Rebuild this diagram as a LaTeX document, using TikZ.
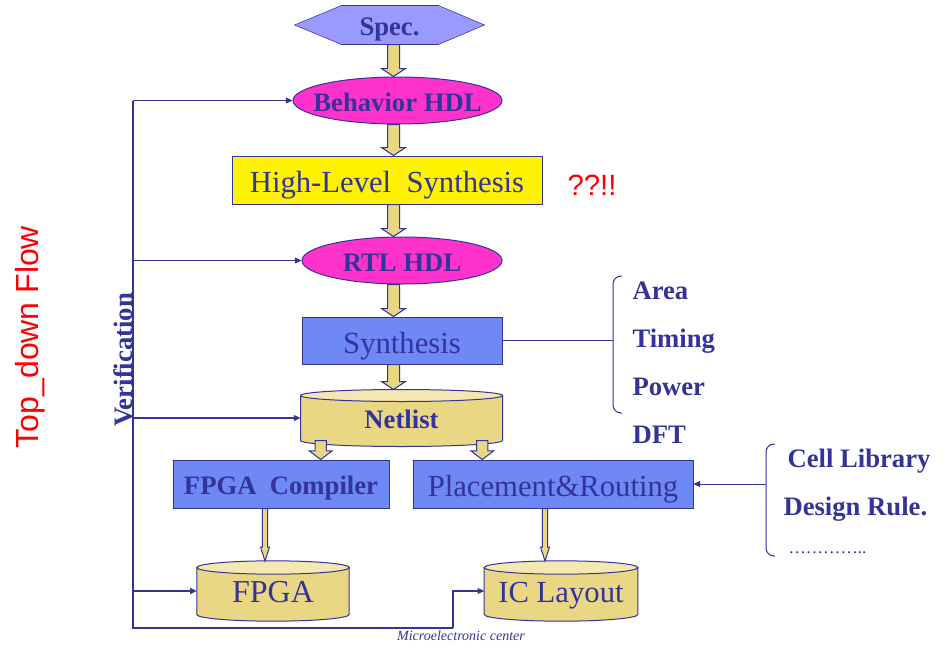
\documentclass[tikz,border=0pt]{standalone}
\usepackage{fontspec}
\setmainfont{Liberation Serif}
\newfontfamily\arialfont{Liberation Sans}
\usetikzlibrary{arrows.meta,calc,shapes.geometric,backgrounds}
\definecolor{navy}{RGB}{51,51,153}
\definecolor{specblue}{RGB}{153,153,255}
\definecolor{hdlpink}{RGB}{255,51,204}
\definecolor{synblue}{RGB}{110,136,245}
\definecolor{drumtan}{RGB}{234,215,132}
\definecolor{drumlid}{RGB}{243,232,178}

\begin{document}
\begin{tikzpicture}[x=0.75pt, y=-0.75pt, >={Triangle[length=5pt,width=4.5pt]}, line width=0.75pt,
    every node/.style={text=navy},
    boldtxt/.style={font=\fontsize{20}{24}\selectfont\bfseries, text height=16pt, text depth=0pt},
    plaintxt/.style={font=\fontsize{23}{27}\selectfont, text height=19pt, text depth=0pt},
    hdl/.style={ellipse, draw=navy, fill=hdlpink, inner sep=0pt, label={[boldtxt]center:#1}},
    stagebox/.style={rectangle, draw=navy, inner sep=0pt},
    drum/.style={rectangle, inner sep=0pt, plaintxt, text height=17pt},
    tanfill/.style={fill=drumtan, draw=navy, line width=0.75pt},
    feedback/.style={draw=navy, line width=0.9pt},
    sidetxt/.style={anchor=base west, inner sep=0pt, boldtxt}]
        \useasboundingbox (0,0) rectangle (946,668);
        \def\fatarrow#1#2#3#4#5{%
          \filldraw[tanfill] let \p1=(#1), \p2=(#2) in
            (\x1-#3,\y1) -- (\x1-#3,\y2+#5) -- (\x1-#4,\y2+#5) -- (\x1,\y2)
            -- (\x1+#4,\y2+#5) -- (\x1+#3,\y2+#5) -- (\x1+#3,\y1) -- cycle;}
        \def\drumshape#1#2{%
          \filldraw[tanfill] let \p1=(#1.north west), \p2=(#1.south east) in
            (\x1,\y1) -- (\x1,\y2) arc[start angle=180, end angle=360, x radius={(\x2-\x1)/2}, y radius=#2]
            -- (\x2,\y1) -- cycle;
          \filldraw[tanfill, fill=drumlid] let \p1=(#1.north west), \p2=(#1.north east) in
            (#1.north) ellipse[x radius={(\x2-\x1)/2}, y radius=#2];}
        \node[boldtxt, inner sep=0pt, minimum width=141.75pt, minimum height=28.5pt] (spec) at (389.5,25) {Spec.};
        \node[hdl=Behavior HDL, minimum width=156.75pt, minimum height=35.25pt] (beh) at (397.5,100.5) {};
        \node[stagebox, fill=yellow, plaintxt, minimum width=232.5pt, minimum height=36pt] (hls) at (387,180) {High-Level\ \ Synthesis};
        \node[hdl=RTL HDL, minimum width=150pt, minimum height=35.25pt] (rtl) at (402,260.5) {};
        \node[stagebox, fill=synblue, plaintxt, minimum width=150pt, minimum height=35.25pt] (syn) at (402,340.5) {Synthesis};
        \node[drum, boldtxt, minimum width=150.75pt, minimum height=33pt] (net) at (401.5,418) {Netlist};
        \node[stagebox, fill=synblue, boldtxt, minimum width=162pt, minimum height=36pt] (fpgac) at (281,484) {FPGA\ \ Compiler};
        \node[stagebox, fill=synblue, plaintxt, minimum width=210pt, minimum height=36pt] (pr) at (553,484) {Placement\&Routing};
        \node[drum, font=\fontsize{24}{28}\selectfont, minimum width=113.6pt, minimum height=34.5pt] (fpga) at (273,591) {FPGA};
        \node[drum, minimum width=114.4pt, minimum height=34.5pt] (ic) at (561,591) {IC Layout};
        \begin{scope}[on background layer]
          \filldraw[draw=navy, fill=specblue] (spec.west) -- ($(spec.north west)+(47,0)$) -- ($(spec.north east)+(-46,0)$)
            -- (spec.east) -- ($(spec.south east)+(-46,0)$) -- ($(spec.south west)+(47,0)$) -- cycle;
          \drumshape{net}{4.5pt}
          \drumshape{fpga}{5pt}
          \drumshape{ic}{5pt}
        \end{scope}
        \coordinate (spine) at (393.5,0);
        \coordinate (nl) at ($(net.south west)!0.1!(net.south east)$);
        \coordinate (nr) at ($(net.south west)!0.9!(net.south east)$);
        \coordinate (fx) at (265,0);
        \coordinate (ix) at (545,0);
        \fatarrow{spine |- spec.south}{spine |- beh.north}{4.5pt}{9pt}{6pt}
        \fatarrow{spine |- beh.south}{spine |- hls.north}{4.5pt}{9pt}{6pt}
        \fatarrow{spine |- hls.south}{spine |- rtl.north}{4.5pt}{9pt}{6pt}
        \fatarrow{spine |- rtl.south}{spine |- syn.north}{4.5pt}{9pt}{6pt}
        \fatarrow{spine |- syn.south}{$(spine |- net.north)+(0,-6)$}{4.5pt}{9pt}{6pt}
        \fatarrow{nl}{nl |- fpgac.north}{4.2pt}{8.6pt}{6.5pt}
        \fatarrow{nr}{nr |- pr.north}{4.2pt}{8.6pt}{6.5pt}
        \fatarrow{fx |- fpgac.south}{$(fx |- fpga.north)+(0,-6.5)$}{2pt}{3.4pt}{10.5pt}
        \fatarrow{ix |- pr.south}{$(ix |- ic.north)+(0,-6.5)$}{2pt}{3.4pt}{10.5pt}
        \node[text=red, font=\arialfont\fontsize{22}{26}\selectfont] (huh) at (592,185) {??!!};
        \node[sidetxt] (area) at (632,299) {Area};
        \node[sidetxt] (timing) at (632,347) {Timing};
        \node[sidetxt] (power) at (632,395) {Power};
        \node[sidetxt] (dft) at (632,443) {DFT};
        \node[sidetxt] (cell) at (787,467) {Cell Library};
        \node[sidetxt] (rule) at (783,515) {Design Rule.};
        \node[sidetxt, font=\fontsize{13}{15}\selectfont] (etc) at (788,553) {…………..};
        \coordinate (qtop) at (622,276);
        \coordinate (qbot) at (622,413);
        \coordinate (qx) at (613,0);
        \draw[navy, rounded corners=6pt] (qtop) -- (qx |- qtop) -- (qx |- qbot) -- (qbot);
        \draw[navy] (syn.east) -- (qx |- syn.east);
        \coordinate (ctop) at (775,444);
        \coordinate (cbot) at (775,556);
        \coordinate (cx) at (766,0);
        \draw[navy, rounded corners=6pt] (ctop) -- (cx |- ctop) -- (cx |- cbot) -- (cbot);
        \draw[navy, ->] (cx |- pr.east) -- (pr.east);
        \coordinate (vtop) at (133,100.5);
        \coordinate (vbot) at (133,628);
        \coordinate (vturn) at (453,628);
        \draw[feedback, ->] (vtop) -- (beh.west);
        \draw[feedback] (vtop) -- (vbot) -- (vturn);
        \draw[feedback, ->] (vturn) |- (ic.west);
        \draw[feedback, ->] (vtop |- rtl.west) -- (rtl.west);
        \draw[feedback, ->] (vtop |- net.west) -- (net.west);
        \draw[feedback, ->] (vtop |- fpga.west) -- (fpga.west);
        \node[boldtxt, rotate=90] (verif) at (122,360) {Verification};
        \node[text=red, font=\arialfont\fontsize{24}{28}\selectfont, rotate=90] (flow) at (30,337) {Top\_down Flow};
        \node[font=\itshape\fontsize{10.5}{12}\selectfont] (credit) at (461,636) {Microelectronic center};
\end{tikzpicture}
\end{document}
